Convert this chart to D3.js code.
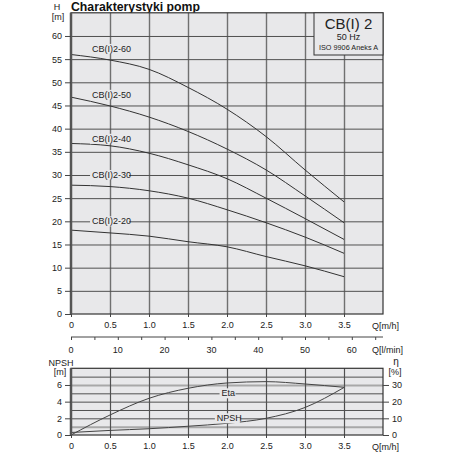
<!DOCTYPE html>
<html>
<head>
<meta charset="utf-8">
<script src="https://cdn.jsdelivr.net/npm/d3@7"></script>
<style>
  body { margin: 0; background: #fff; }
  svg { font-family: "Liberation Sans", Arial, sans-serif; }
  .tick text { fill: #222; }
</style>
</head>
<body>
<svg width="452" height="452"></svg>
<script>
// flow points, m3/h
var flowQ = [0, 0.5, 1.0, 1.5, 2.0, 2.5, 3.0, 3.5];

// head curves [m]
var pumpNames = ["CB(I)2-60", "CB(I)2-50", "CB(I)2-40", "CB(I)2-30", "CB(I)2-20"];
var head60 = [56.0, 54.8, 52.8, 48.9, 44.2, 38.3, 31.1, 24.2];
var head50 = [46.8, 44.9, 42.5, 39.4, 35.6, 31.1, 25.5, 19.7];
var head40 = [36.8, 36.3, 34.7, 32.2, 29.2, 25.0, 20.6, 16.1];
var head30 = [27.8, 27.5, 26.6, 25.0, 22.5, 19.7, 16.6, 13.1];
var head20 = [18.1, 17.5, 16.8, 15.6, 14.5, 12.4, 10.4, 8.05];
var labelHeads = [57.2, 47.3, 37.8, 30, 20];

// lower chart
var etaPct = [0, 12, 22, 28, 31.2, 32, 30.6, 28.6];
var npshM = [0.3, 0.55, 0.75, 1.05, 1.4, 2.0, 3.3, 5.7];

// ticks
var hTicks = d3.range(0, 61, 5);
var qTicks = [0, 0.5, 1.0, 1.5, 2.0, 2.5, 3.0, 3.5];
var lminTicks = [0, 10, 20, 30, 40, 50, 60];
var npshTicks = [0, 2, 4, 6];
var etaTicks = [0, 10, 20, 30];

var svg = d3.select("svg");
var bg = "#e8e8ea";

var x = d3.scaleLinear().domain([0, 4]).range([71, 383]);
var yH = d3.scaleLinear().domain([0, 65]).range([314, 12.8]);
var xL = d3.scaleLinear().domain([0, 4 * 1000 / 60]).range([71, 383]);
var yN = d3.scaleLinear().domain([0, 8]).range([435, 368.3]);
var yEta = d3.scaleLinear().domain([0, 40]).range([435, 368.3]);

// title
svg.append("text")
    .attr("x", 71).attr("y", 11)
    .attr("font-size", 13).attr("font-weight", "bold")
    .attr("textLength", 129).attr("lengthAdjust", "spacingAndGlyphs")
    .attr("fill", "#111")
    .text("Charakterystyki pomp");

//////////// MAIN CHART ////////////

svg.append("rect")
    .attr("x", x(0)).attr("y", yH(65))
    .attr("width", x(4) - x(0)).attr("height", yH(0) - yH(65))
    .attr("fill", bg);

// grid
svg.append("g")
    .attr("transform", "translate(0," + yH(0) + ")")
    .call(d3.axisBottom(x).tickValues(d3.range(0.5, 4, 0.5)).tickSize(-(yH(0) - yH(65))).tickFormat(""))
    .call(g => g.select(".domain").remove())
    .call(g => g.selectAll("line").attr("stroke", "#707070").attr("stroke-width", 1.4));

svg.append("g")
    .attr("transform", "translate(" + x(0) + ",0)")
    .call(d3.axisLeft(yH).tickValues(hTicks.slice(1)).tickSize(-(x(4) - x(0))).tickFormat(""))
    .call(g => g.select(".domain").remove())
    .call(g => g.selectAll("line").attr("stroke", "#505050").attr("stroke-width", 1));

var line = d3.line()
    .x(function(d, i) { return x(flowQ[i]); })
    .y(function(d) { return yH(d); })
    .curve(d3.curveMonotoneX);

var heads = [head60, head50, head40, head30, head20];
svg.append("g").selectAll("path")
    .data(heads)
    .enter().append("path")
    .attr("d", line)
    .attr("fill", "none")
    .attr("stroke", "#333")
    .attr("stroke-width", 1);

// curve labels
var lab = svg.append("g").selectAll("g")
    .data(pumpNames)
    .enter().append("g")
    .attr("transform", function(d, i) { return "translate(" + x(0.27) + "," + yH(labelHeads[i]) + ")"; });
lab.append("rect")
    .attr("x", -2).attr("y", -5).attr("width", 39).attr("height", 10)
    .attr("fill", bg);
lab.append("text")
    .attr("x", 0).attr("dy", "0.35em")
    .attr("font-size", 9).attr("fill", "#222")
    .text(function(d) { return d; });

// frame
svg.append("rect")
    .attr("x", x(0)).attr("y", yH(65))
    .attr("width", x(4) - x(0)).attr("height", yH(0) - yH(65))
    .attr("fill", "none").attr("stroke", "#333").attr("stroke-width", 1.2);
svg.append("line")
    .attr("x1", x(0)).attr("x2", x(0)).attr("y1", yH(65)).attr("y2", yH(0))
    .attr("stroke", "#555").attr("stroke-width", 2.5);

// axes
svg.append("g")
    .attr("transform", "translate(" + x(0) + ",0)")
    .call(d3.axisLeft(yH).tickValues(hTicks).tickSize(6).tickPadding(3))
    .call(g => g.select(".domain").remove())
    .call(g => g.selectAll("line").attr("stroke", "#444"))
    .call(g => g.selectAll("text").attr("font-size", 9).attr("font-family", null));

svg.append("g")
    .attr("transform", "translate(0," + yH(0) + ")")
    .call(d3.axisBottom(x).tickValues(qTicks).tickSize(3).tickPadding(5).tickFormat(function(d) { return d === 0 ? "0" : d3.format(".1f")(d); }))
    .call(g => g.select(".domain").remove())
    .call(g => g.selectAll("line").attr("stroke", "#444"))
    .call(g => g.selectAll("text").attr("font-size", 9).attr("font-family", null));

svg.append("text").attr("x", 57).attr("y", 10).attr("text-anchor", "middle").attr("font-size", 9).attr("fill", "#222").text("H");
svg.append("text").attr("x", 58).attr("y", 20).attr("text-anchor", "middle").attr("font-size", 9).attr("fill", "#222").text("[m]");
svg.append("text").attr("x", 372).attr("y", 329).attr("font-size", 9).attr("fill", "#222").text("Q[m/h]");

// l/min axis
svg.append("g")
    .attr("transform", "translate(0,337)")
    .call(d3.axisBottom(xL).tickValues(d3.range(0, 66, 5)).tickSize(3).tickFormat(""))
    .call(g => g.select(".domain").attr("stroke", "#444").attr("d", "M71,0H383"))
    .call(g => g.selectAll("line").attr("stroke", "#444"));
svg.append("g").selectAll("text")
    .data(lminTicks)
    .enter().append("text")
    .attr("x", function(d) { return xL(d); })
    .attr("y", 353)
    .attr("text-anchor", "middle").attr("font-size", 9).attr("fill", "#222")
    .text(function(d) { return d; });
svg.append("text").attr("x", 372).attr("y", 352.5).attr("font-size", 9).attr("fill", "#222").text("Q[l/min]");

// legend box
var box = svg.append("g");
box.append("rect")
    .attr("x", 314).attr("y", yH(65)).attr("width", 383 - 314).attr("height", 55 - yH(65))
    .attr("fill", bg).attr("stroke", "#333").attr("stroke-width", 1);
box.append("text").attr("x", 348.5).attr("y", 29).attr("text-anchor", "middle").attr("font-size", 15).attr("fill", "#222").text("CB(I) 2");
box.append("text").attr("x", 348.5).attr("y", 40).attr("text-anchor", "middle").attr("font-size", 9).attr("fill", "#222").text("50 Hz");
box.append("text").attr("x", 348.5).attr("y", 50).attr("text-anchor", "middle").attr("font-size", 7.5)
    .attr("textLength", 59).attr("lengthAdjust", "spacingAndGlyphs").attr("fill", "#222").text("ISO 9906 Aneks  A");

//////////// LOWER CHART ////////////

svg.append("rect")
    .attr("x", x(0)).attr("y", yN(8))
    .attr("width", x(4) - x(0)).attr("height", yN(0) - yN(8))
    .attr("fill", bg);

svg.append("g")
    .attr("transform", "translate(" + x(0) + ",0)")
    .call(d3.axisLeft(yN).tickValues(d3.range(1, 8)).tickSize(-(x(4) - x(0))).tickFormat(""))
    .call(g => g.select(".domain").remove())
    .call(g => g.selectAll("line")
        .attr("stroke", function(d) { return (d === 1 || d === 6) ? "#a8a8a8" : "#505050"; })
        .attr("stroke-width", function(d) { return (d === 1 || d === 6) ? 2 : 1; }));

svg.append("g")
    .attr("transform", "translate(0," + yN(0) + ")")
    .call(d3.axisBottom(x).tickValues(d3.range(0.5, 4, 0.5)).tickSize(-(yN(0) - yN(8))).tickFormat(""))
    .call(g => g.select(".domain").remove())
    .call(g => g.selectAll("line").attr("stroke", "#505050").attr("stroke-width", 1.2));

var etaLine = d3.line()
    .x(function(d, i) { return x(flowQ[i]); })
    .y(function(d) { return yEta(d); })
    .curve(d3.curveMonotoneX);
var npshLine = d3.line()
    .x(function(d, i) { return x(flowQ[i]); })
    .y(function(d) { return yN(d); })
    .curve(d3.curveMonotoneX);

svg.append("path").datum(etaPct).attr("d", etaLine)
    .attr("fill", "none").attr("stroke", "#444").attr("stroke-width", 1);
svg.append("path").datum(npshM).attr("d", npshLine)
    .attr("fill", "none").attr("stroke", "#444").attr("stroke-width", 1);

var lowLabels = [{ t: "Eta", v: 5, q: 1.93, w: 16 }, { t: "NPSH", v: 2, q: 1.87, w: 25 }];
var ll = svg.append("g").selectAll("g")
    .data(lowLabels)
    .enter().append("g")
    .attr("transform", function(d) { return "translate(" + x(d.q) + "," + yN(d.v) + ")"; });
ll.append("rect")
    .attr("x", -2).attr("y", -5).attr("height", 10)
    .attr("width", function(d) { return d.w; })
    .attr("fill", bg);
ll.append("text")
    .attr("x", 0)
    .attr("dy", "0.35em").attr("font-size", 9).attr("fill", "#222")
    .text(function(d) { return d.t; });

svg.append("rect")
    .attr("x", x(0)).attr("y", yN(8))
    .attr("width", x(4) - x(0)).attr("height", yN(0) - yN(8))
    .attr("fill", "none").attr("stroke", "#333").attr("stroke-width", 1.2);
svg.append("line")
    .attr("x1", x(0)).attr("x2", x(0)).attr("y1", yN(8)).attr("y2", yN(0))
    .attr("stroke", "#555").attr("stroke-width", 2.5);

svg.append("g")
    .attr("transform", "translate(" + x(0) + ",0)")
    .call(d3.axisLeft(yN).tickValues(npshTicks).tickSize(6).tickPadding(3))
    .call(g => g.select(".domain").remove())
    .call(g => g.selectAll("line").attr("stroke", "#444"))
    .call(g => g.selectAll("text").attr("font-size", 9).attr("font-family", null));

svg.append("g")
    .attr("transform", "translate(" + x(4) + ",0)")
    .call(d3.axisRight(yEta).tickValues(etaTicks).tickSize(6).tickPadding(3))
    .call(g => g.select(".domain").remove())
    .call(g => g.selectAll("line").attr("stroke", "#444"))
    .call(g => g.selectAll("text").attr("font-size", 9).attr("font-family", null));

svg.append("g")
    .attr("transform", "translate(0," + yN(0) + ")")
    .call(d3.axisBottom(x).tickValues(qTicks).tickSize(3).tickPadding(5).tickFormat(function(d) { return d === 0 ? "0" : d3.format(".1f")(d); }))
    .call(g => g.select(".domain").remove())
    .call(g => g.selectAll("line").attr("stroke", "#444"))
    .call(g => g.selectAll("text").attr("font-size", 9).attr("font-family", null));

svg.append("text").attr("x", 61).attr("y", 366).attr("text-anchor", "middle").attr("font-size", 9).attr("fill", "#222").text("NPSH");
svg.append("text").attr("x", 60).attr("y", 375).attr("text-anchor", "middle").attr("font-size", 9).attr("fill", "#222").text("[m]");
svg.append("text").attr("x", 396).attr("y", 365).attr("text-anchor", "middle").attr("font-size", 10).attr("fill", "#222").text("η");
svg.append("text").attr("x", 395).attr("y", 375).attr("text-anchor", "middle").attr("font-size", 9).attr("fill", "#222").text("[%]");
svg.append("text").attr("x", 372).attr("y", 450).attr("font-size", 9).attr("fill", "#222").text("Q[m/h]");
</script>
</body>
</html>
